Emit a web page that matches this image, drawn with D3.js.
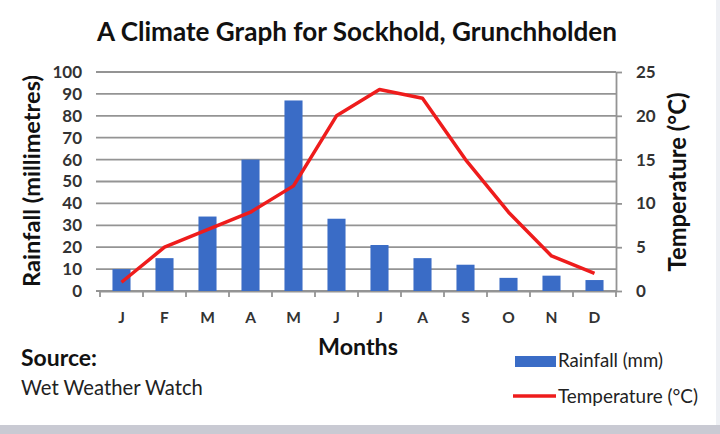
<!DOCTYPE html>
<html><head><meta charset="utf-8">
<script src="https://cdn.jsdelivr.net/npm/d3@7/dist/d3.min.js"></script>
<style>body{margin:0;background:#fff}svg{display:block}text{font-family:Lato,"Open Sans",sans-serif}</style>
</head><body><svg id="c" width="720" height="434"></svg>
<script>
const months = ["J","F","M","A","M","J","J","A","S","O","N","D"];
const rainfall = [10,15,34,60,87,33,21,15,12,6,7,5];
const temperature = [1,5,7,9,12,20,23,22,15,9,4,2];
const rainTicks = [0,10,20,30,40,50,60,70,80,90,100];
const tempTicks = [0,5,10,15,20,25];

const svg = d3.select("#c");
const L=100, R=616, T=72, B=291;
const idx = months.map((m,i)=>i);
const x = d3.scaleBand().domain(idx).range([L,R]).paddingInner(0.58).paddingOuter(0.29);
const xb = d3.scaleBand().domain(idx).range([L,R]);
const yR = d3.scaleLinear().domain([0,100]).range([B,T]);
const yT = d3.scaleLinear().domain([0,25]).range([B,T]);

function fit(t, w){ t.attr("font-size",20); const len=t.node().getComputedTextLength(); t.attr("font-size",20*w/len); return t; }

// border band
svg.append("rect").attr("x",0).attr("y",425).attr("width",720).attr("height",9).attr("fill","#c9cad3");
svg.append("rect").attr("x",716).attr("y",0).attr("width",4).attr("height",425).attr("fill","#eef0f4");

// gridlines
svg.append("g").selectAll("line").data(rainTicks).join("line")
  .attr("x1",L-4).attr("x2",R).attr("y1",d=>yR(d)).attr("y2",d=>yR(d))
  .attr("stroke","#949494").attr("stroke-width",1.8);

// left axis
const gl = svg.append("g").attr("transform",`translate(${L-4},0)`)
  .call(d3.axisLeft(yR).tickValues(rainTicks).tickSize(0).tickPadding(14));
gl.select(".domain").remove();
gl.selectAll("text").attr("font-size",17).attr("font-weight","bold").attr("fill","#333").attr("font-family","Lato,sans-serif");

// right axis
const gr = svg.append("g").attr("transform",`translate(${R},0)`)
  .call(d3.axisRight(yT).tickValues(tempTicks).tickSize(6).tickSizeOuter(0).tickPadding(14));
gr.select(".domain").attr("stroke","#949494").attr("stroke-width",1.8);
gr.selectAll(".tick line").attr("stroke","#949494").attr("stroke-width",1.8);
gr.selectAll("text").attr("font-size",17).attr("font-weight","bold").attr("fill","#333").attr("font-family","Lato,sans-serif");

// bottom axis
const gb = svg.append("g").attr("transform",`translate(0,${B})`)
  .call(d3.axisBottom(xb).tickSize(0).tickFormat(i=>months[i]).tickPadding(21));
gb.select(".domain").attr("stroke","#949494").attr("stroke-width",1.8);
gb.selectAll("text").attr("font-size",15.5).attr("font-weight","bold").attr("fill","#333").attr("font-family","Lato,sans-serif");
svg.append("g").selectAll("line").data(d3.range(13)).join("line")
  .attr("x1",i=>L+i*xb.step()).attr("x2",i=>L+i*xb.step())
  .attr("y1",B).attr("y2",B+6).attr("stroke","#949494").attr("stroke-width",1.8);

// bars
svg.append("g").selectAll("rect").data(rainfall).join("rect")
  .attr("x",(d,i)=>x(i)).attr("width",x.bandwidth())
  .attr("y",d=>yR(d)).attr("height",d=>B-yR(d)).attr("fill","#3a6cc6");

// line
const line = d3.line().x((d,i)=>xb(i)+xb.bandwidth()/2).y(d=>yT(d));
svg.append("path").datum(temperature).attr("d",line).attr("fill","none")
  .attr("stroke","#ee1c1c").attr("stroke-width",3.5).attr("stroke-linejoin","round");

// title
fit(svg.append("text").attr("x",357).attr("y",41).attr("text-anchor","middle")
  .attr("font-weight","bold").attr("fill","#111")
  .text("A Climate Graph for Sockhold, Grunchholden"), 520);
// axis titles
fit(svg.append("text").attr("transform",`translate(40,181) rotate(-90)`).attr("text-anchor","middle")
  .attr("font-weight","bold").attr("fill","#111").text("Rainfall (millimetres)"), 212);
fit(svg.append("text").attr("transform",`translate(686,182) rotate(-90)`).attr("text-anchor","middle")
  .attr("font-weight","bold").attr("fill","#111").text("Temperature (°C)"), 179);
fit(svg.append("text").attr("x",358).attr("y",355).attr("text-anchor","middle")
  .attr("font-weight","bold").attr("fill","#111").text("Months"), 80);
fit(svg.append("text").attr("x",21).attr("y",366).attr("font-weight","bold").attr("fill","#111").text("Source:"), 76);
fit(svg.append("text").attr("x",21).attr("y",395).attr("fill","#222").text("Wet Weather Watch"), 182);

// legend
svg.append("rect").attr("x",515).attr("y",356).attr("width",41).attr("height",11).attr("fill","#3a6cc6");
fit(svg.append("text").attr("x",558).attr("y",367).attr("fill","#222").text("Rainfall (mm)"), 105);
svg.append("line").attr("x1",513).attr("x2",556).attr("y1",396).attr("y2",396).attr("stroke","#ee1c1c").attr("stroke-width",3.5);
fit(svg.append("text").attr("x",558).attr("y",403).attr("fill","#222").text("Temperature (°C)"), 140);
</script></body></html>
